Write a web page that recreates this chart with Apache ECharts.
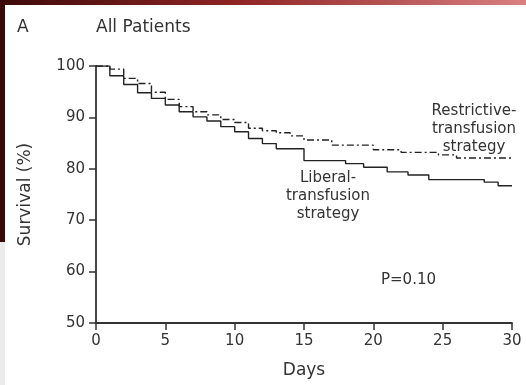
<!DOCTYPE html>
<html>
<head>
<meta charset="utf-8">
<script src="https://cdn.jsdelivr.net/npm/echarts@6/dist/echarts.min.js"></script>
<style>
html, body { margin: 0; padding: 0; background: #fff; }
#chart { width: 526px; height: 385px; }
</style>
</head>
<body>
<div id="chart"></div>
<script>
// step points: [day, survival %] after each drop
var liberal = [
    [0, 100], [1, 98.1], [2, 96.4], [3, 94.8], [4, 93.7], [5, 92.4],
    [6, 91.1], [7, 90.1], [8, 89.3], [9, 88.2], [10, 87.2], [11, 85.9],
    [12, 84.9], [13, 83.9], [15, 81.6], [18, 81.0], [19.3, 80.3],
    [21, 79.4], [22.5, 78.8], [24, 77.9], [28, 77.4], [29, 76.7], [30, 76.7]
];
var restrictive = [
    [0, 100], [1, 99.4], [2, 97.6], [3, 96.6], [4, 94.9], [5, 93.5],
    [6, 92.1], [7, 91.1], [8, 90.5], [9, 89.6], [10, 89.0], [11, 87.9],
    [12, 87.4], [13, 87.0], [14, 86.4], [15, 85.6], [17, 84.6], [20, 83.7],
    [22, 83.2], [24.7, 82.7], [26, 82.1], [30, 82.0]
];
var xTicks = [0, 5, 10, 15, 20, 25, 30];
var yTicks = [50, 60, 70, 80, 90, 100];

var font = 'DejaVu Sans';
var ink = '#333';

var myChart = echarts.init(document.getElementById('chart'));

var option = {
    backgroundColor: '#fff',
    animation: false,
    grid: { left: 96, right: 14, top: 66, bottom: 62 },
    xAxis: {
        type: 'value',
        min: xTicks[0],
        max: xTicks[xTicks.length - 1],
        interval: 5,
        name: 'Days',
        nameLocation: 'middle',
        nameGap: 39,
        nameTextStyle: { fontFamily: font, fontSize: 17, color: ink },
        splitLine: { show: false },
        axisLine: { lineStyle: { color: ink, width: 1.8 } },
        axisTick: { length: 7, lineStyle: { color: ink, width: 1.5 } },
        axisLabel: { margin: 11, fontFamily: font, fontSize: 15, color: ink }
    },
    yAxis: {
        type: 'value',
        min: yTicks[0],
        max: yTicks[yTicks.length - 1],
        interval: 10,
        name: 'Survival (%)',
        nameLocation: 'middle',
        nameGap: 62,
        nameTextStyle: { fontFamily: font, fontSize: 17, color: ink },
        splitLine: { show: false },
        axisLine: { show: true, lineStyle: { color: ink, width: 1.8 } },
        axisTick: { show: true, length: 7, lineStyle: { color: ink, width: 1.5 } },
        axisLabel: { margin: 11, fontFamily: font, fontSize: 15, color: ink }
    },
    series: [
        {
            name: 'Liberal',
            type: 'line',
            step: 'end',
            symbol: 'none',
            data: liberal,
            lineStyle: { color: '#222', width: 1.4 }
        },
        {
            name: 'Restrictive',
            type: 'line',
            step: 'end',
            symbol: 'none',
            data: restrictive,
            lineStyle: { color: '#222', width: 1.4, type: [7, 3, 2, 3] }
        }
    ],
    graphic: [
        // slide edge decoration
        {
            type: 'rect', left: 0, top: 0, z: -10,
            shape: { width: 526, height: 5 },
            style: {
                fill: new echarts.graphic.LinearGradient(0, 0, 1, 0, [
                    { offset: 0, color: '#3d0a0a' },
                    { offset: 0.45, color: '#8f2424' },
                    { offset: 1, color: '#d98080' }
                ])
            }
        },
        {
            type: 'rect', left: 0, top: 0, z: -10,
            shape: { width: 5, height: 242 },
            style: { fill: '#3b0909' }
        },
        {
            type: 'rect', left: 0, top: 242, z: -10,
            shape: { width: 5, height: 143 },
            style: { fill: '#ebebeb' }
        },
        {
            type: 'text', left: 17, top: 19,
            style: { text: 'A', fontFamily: font, fontSize: 17, fill: ink }
        },
        {
            type: 'text', left: 96, top: 19,
            style: { text: 'All Patients', fontFamily: font, fontSize: 17, fill: ink }
        },
        {
            type: 'text', x: 474, y: 102,
            style: {
                text: 'Restrictive-\ntransfusion\nstrategy',
                fontFamily: font, fontSize: 15, lineHeight: 18,
                fill: ink, align: 'center', verticalAlign: 'top'
            }
        },
        {
            type: 'text', x: 328, y: 169,
            style: {
                text: 'Liberal-\ntransfusion\nstrategy',
                fontFamily: font, fontSize: 15, lineHeight: 18,
                fill: ink, align: 'center', verticalAlign: 'top'
            }
        },
        {
            type: 'text', left: 381, top: 273,
            style: { text: 'P=0.10', fontFamily: font, fontSize: 15, fill: ink }
        }
    ]
};

myChart.setOption(option);
</script>
</body>
</html>
